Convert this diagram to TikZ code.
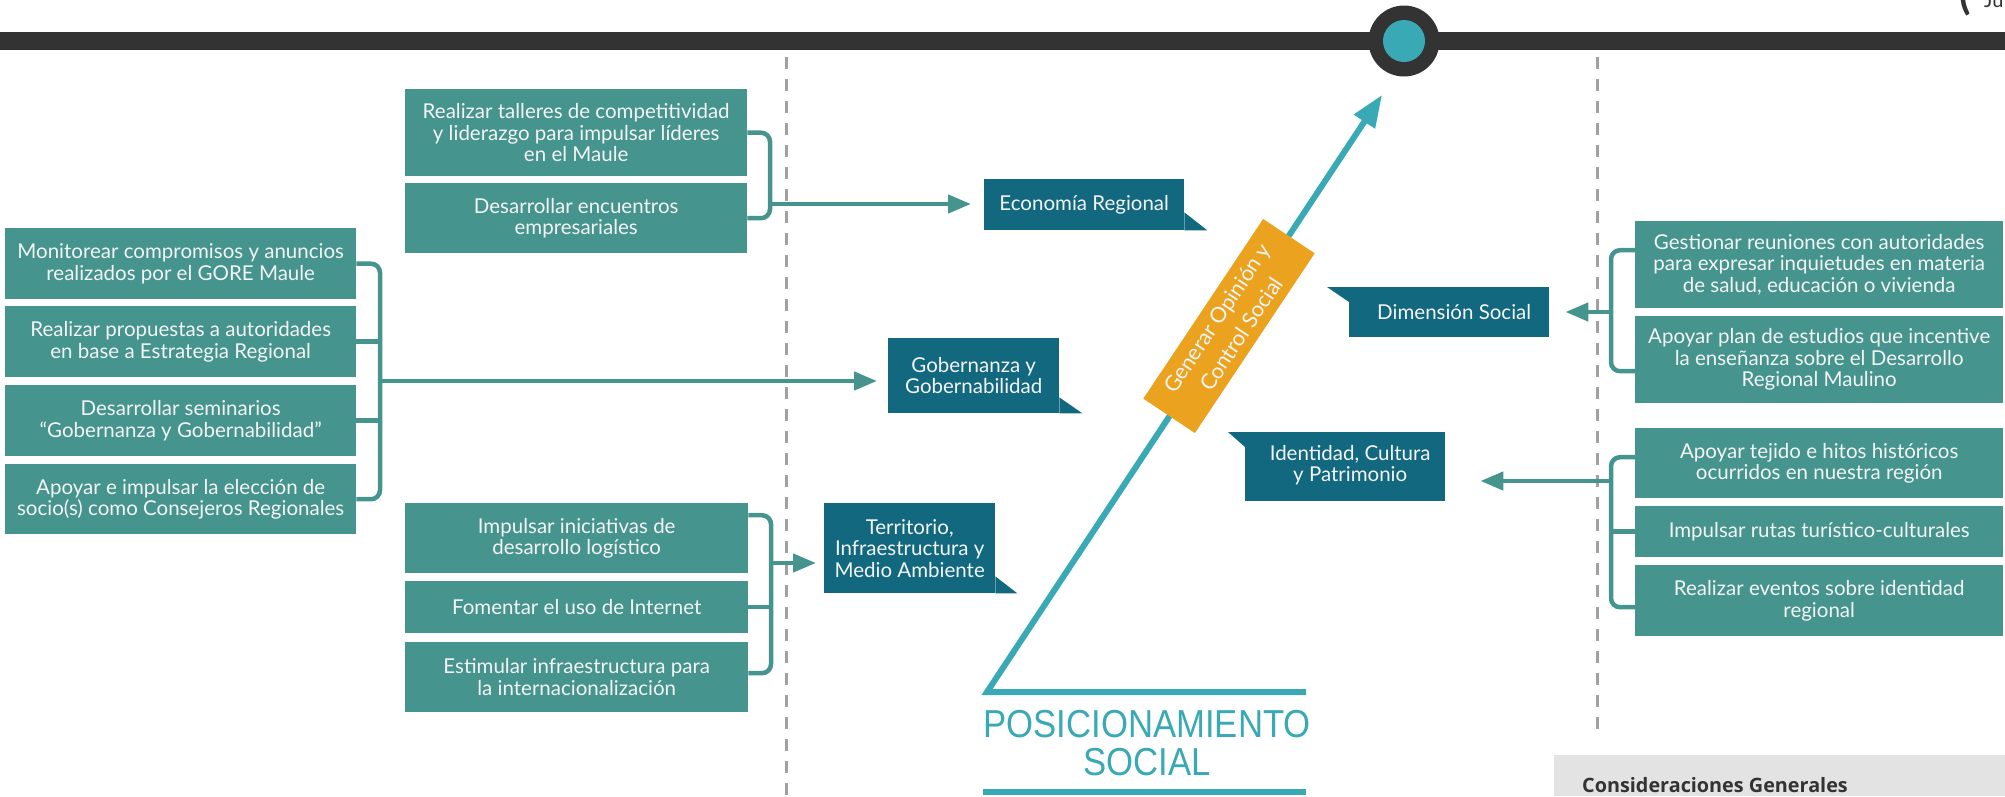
\documentclass[tikz,border=0pt]{standalone}
\usepackage{fontspec}
\setmainfont{Lato}
\newfontfamily\posfont[FakeStretch=0.89]{Liberation Sans}
\newfontfamily\osans{Open Sans}
\usetikzlibrary{arrows.meta}
\definecolor{boxgreen}{HTML}{45948E}
\definecolor{boxdark}{HTML}{12687F}
\definecolor{lineteal}{HTML}{39A9B5}
\definecolor{conncol}{HTML}{45948E}
\definecolor{barcol}{HTML}{333333}
\definecolor{orangebox}{HTML}{EBA31F}
\definecolor{dashgray}{HTML}{A0A0A0}
\definecolor{considgray}{HTML}{E3E3E3}
\definecolor{boxtext}{HTML}{F4F4F4}
\begin{document}
\begin{tikzpicture}[x=1pt,y=-1pt,
  txt/.style={font=\fontsize{20.5}{21.5}\selectfont, text=boxtext, align=center, inner sep=0pt},
  gbox/.style={txt, fill=boxgreen, anchor=north west},
  dbox/.style={txt, fill=boxdark, anchor=north west},
  connline/.style={draw=conncol, line width=4.5pt, rounded corners=9pt},
  arr/.style={draw=conncol, line width=4.5pt, -{Triangle[length=23pt,width=18pt]}},
  divider/.style={draw=dashgray, line width=3pt, dash pattern=on 12pt off 10pt},
]
\useasboundingbox (0,0) rectangle (2005,796);

% top bar and circle
\fill[barcol] (0,32) rectangle (2005,50);
\node[circle, fill=barcol, minimum size=71pt, inner sep=0] (topc) at (1404,41) {};
\node[circle, fill=lineteal, minimum size=42pt, inner sep=0] (topci) at (topc.center) {};
\node[anchor=base west, inner sep=0, font=\fontsize{42}{42}\selectfont\bfseries, text=barcol] (paren) at (1959,9) {(};
\node[anchor=base west, inner sep=0, font=\fontsize{20}{20}\selectfont, text=barcol] (ju) at (1984,7) {Ju};

% dividers
\draw[divider] (786,57) -- (786,796);
\draw[divider] (1597,57) -- (1597,735);

% left column
\node[gbox, minimum width=351pt, minimum height=71pt] (l1) at (5,228) {Monitorear compromisos y anuncios\\realizados por el GORE Maule};
\node[gbox, minimum width=351pt, minimum height=71pt] (l2) at (5,306) {Realizar propuestas a autoridades\\en base a Estrategia Regional};
\node[gbox, minimum width=351pt, minimum height=71pt] (l3) at (5,385) {Desarrollar seminarios\\“Gobernanza y Gobernabilidad”};
\node[gbox, minimum width=351pt, minimum height=70pt] (l4) at (5,464) {Apoyar e impulsar la elección de\\socio(s) como Consejeros Regionales};

% middle-left column
\node[gbox, minimum width=342pt, minimum height=87pt] (m1) at (405,89) {Realizar talleres de competitividad\\y liderazgo para impulsar líderes\\en el Maule};
\node[gbox, minimum width=342pt, minimum height=70pt] (m2) at (405,183) {Desarrollar encuentros\\empresariales};
\node[gbox, minimum width=343pt, minimum height=70pt] (m3) at (405,503) {Impulsar iniciativas de\\desarrollo logístico};
\node[gbox, minimum width=343pt, minimum height=52pt] (m4) at (405,581) {Fomentar el uso de Internet};
\node[gbox, minimum width=343pt, minimum height=70pt] (m5) at (405,642) {Estimular infraestructura para\\la internacionalización};

% right column
\node[gbox, minimum width=368pt, minimum height=87pt] (r1) at (1635,221) {Gestionar reuniones con autoridades\\para expresar inquietudes en materia\\de salud, educación o vivienda};
\node[gbox, minimum width=368pt, minimum height=87pt] (r2) at (1635,316) {Apoyar plan de estudios que incentive\\la enseñanza sobre el Desarrollo\\Regional Maulino};
\node[gbox, minimum width=368pt, minimum height=70pt] (r3) at (1635,428) {Apoyar tejido e hitos históricos\\ocurridos en nuestra región};
\node[gbox, minimum width=368pt, minimum height=51pt] (r4) at (1635,506) {Impulsar rutas turístico-culturales};
\node[gbox, minimum width=368pt, minimum height=71pt] (r5) at (1635,565) {Realizar eventos sobre identidad\\regional};

% dark labels
\node[dbox, minimum width=200pt, minimum height=51pt] (eco) at (984,179) {Economía Regional};
\fill[boxdark] (eco.south east) -- ++(23,0) -- ++(-23,-18) -- cycle;
\node[dbox, minimum width=171pt, minimum height=75pt] (gob) at (888,338) {Gobernanza y\\Gobernabilidad};
\fill[boxdark] (gob.south east) -- ++(23,0) -- ++(-23,-16) -- cycle;
\node[dbox, minimum width=171pt, minimum height=90pt] (ter) at (824,503) {Territorio,\\Infraestructura y\\Medio Ambiente};
\fill[boxdark] (ter.south east) -- ++(22,0) -- ++(-22,-17) -- cycle;
\node[dbox, minimum width=200pt, minimum height=50pt] (dim) at (1349,287) {\hspace*{10pt}Dimensión Social};
\fill[boxdark] (dim.north west) -- ++(-22,0) -- ++(22,15) -- cycle;
\node[dbox, minimum width=200pt, minimum height=69pt] (ide) at (1245,432) {\hspace*{10pt}\begin{tabular}{@{}c@{}}Identidad, Cultura\\[-0.6pt]y Patrimonio\end{tabular}};
\fill[boxdark] (ide.north west) -- ++(-17,0) -- ++(17,15) -- cycle;

% left bracket
\coordinate (lb) at (380,381);
\draw[connline] (l1.east) -| (lb |- l4.east) -- (l4.east);
\draw[connline] (l2.east) -- (lb |- l2.east);
\draw[connline] (l3.east) -- (lb |- l3.east);
\draw[arr, shorten >=11pt] (lb) -- (gob.west |- lb);

% top bracket
\coordinate (tb) at (770,204);
\draw[connline] (m1.east) -| (tb |- m2.east) -- (m2.east);
\draw[arr, shorten >=13pt] (tb) -- (eco.west |- tb);

% bottom bracket
\coordinate (bb) at (771,563);
\coordinate (m3s) at ([yshift=23pt]m3.east);
\coordinate (m5s) at ([yshift=4pt]m5.east);
\draw[connline] (m3s) -| (bb |- m5s) -- (m5s);
\draw[connline] (m4.east) -- (bb |- m4.east);
\draw[arr, shorten >=8pt] (bb) -- (ter.west |- bb);

% right top bracket
\coordinate (rb1) at (1611,312);
\coordinate (r1s) at ([yshift=14.5pt]r1.west);
\coordinate (r2s) at ([yshift=-11.5pt]r2.west);
\draw[connline] (r1s) -| (rb1 |- r2s) -- (r2s);
\draw[arr, shorten >=16pt] (rb1) -- (dim.east |- rb1);

% right bottom bracket
\coordinate (rb2) at (1611,481);
\coordinate (r3s) at ([yshift=6pt]r3.west);
\coordinate (r5s) at ([yshift=-6.5pt]r5.west);
\draw[connline] (r3s) -| (rb2 |- r5s) -- (r5s);
\draw[connline] (r4.west) -- (rb2 |- r4.west);
\draw[arr, shorten >=35pt] (rb2) -- (ide.east |- rb2);

% diagonal arrow and base
\coordinate (hend) at (1306,692);
\coordinate (corner) at (987,692);
\coordinate (tip) at (1382,95);
\draw[lineteal, line width=6pt, line join=miter, -{Triangle[length=32pt,width=24pt]}] (hend) -- (corner) -- (tip);
\node[rotate=56.3, fill=orangebox, minimum width=216pt, minimum height=62pt, txt, font=\fontsize{21.5}{29}\selectfont] (gen) at (1229,326) {Generar Opinión y\\Control Social};
\node[anchor=base, inner sep=0, text=lineteal, font=\posfont\fontsize{39}{39}\selectfont] (pos1) at (1147,737) {POSICIONAMIENTO};
\node[anchor=base, inner sep=0, text=lineteal, font=\posfont\fontsize{39}{39}\selectfont] (pos2) at (1147,775) {SOCIAL};
\draw[lineteal, line width=6pt] (983,792) -- (1306,792);

% consideraciones
\fill[considgray] (1554,755) rectangle (2005,796);
\node[anchor=base west, inner sep=0, text=barcol, font=\osans\bfseries\fontsize{19.8}{20}\selectfont] (cg) at (1582,792) {Consideraciones Generales};
\end{tikzpicture}
\end{document}
